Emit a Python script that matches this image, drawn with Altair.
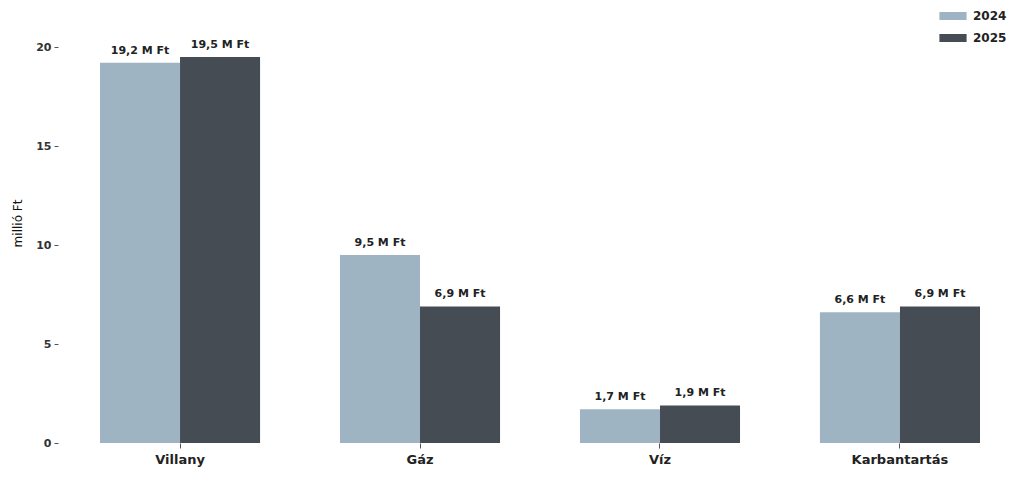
import altair as alt
import pandas as pd

categories = ["Villany", "Gáz", "Víz", "Karbantartás"]
years = ["2024", "2025"]
values_2024 = [19.2, 9.5, 1.7, 6.6]
values_2025 = [19.5, 6.9, 1.9, 6.9]
colors = ["#9fb4c2", "#464c54"]

rows = []
for cat, v1, v2 in zip(categories, values_2024, values_2025):
    for yr, v in zip(years, (v1, v2)):
        rows.append({"kat": cat, "ev": yr, "ertek": v,
                     "cimke": f"{v:.1f}".replace(".", ",") + " M Ft"})
df = pd.DataFrame(rows)

FONT = "DejaVu Sans"

x = alt.X("kat:N", sort=categories, title=None,
          scale=alt.Scale(paddingInner=0.333, paddingOuter=0.125),
          axis=alt.Axis(labelAngle=0, labelFont=FONT, labelFontWeight="bold",
                        labelFontSize=13, labelColor="#222", domain=False,
                        ticks=True, tickSize=5, tickColor="#555",
                        labelPadding=5))
xo = alt.XOffset("ev:N", sort=years)
y = alt.Y("ertek:Q", title="millió Ft",
          scale=alt.Scale(domain=[0, 20], nice=False),
          axis=alt.Axis(values=[0, 5, 10, 15, 20], grid=False, domain=False,
                        tickSize=4, tickColor="#555", offset=12,
                        labelFont=FONT, labelFontWeight="bold", labelFontSize=11,
                        labelColor="#333", labelPadding=3,
                        titleFont=FONT, titleFontSize=12, titleFontWeight="normal",
                        titleColor="#111", titlePadding=11, titleY=176))

color = alt.Color("ev:N", sort=years, title=None,
                  scale=alt.Scale(domain=years, range=colors),
                  legend=alt.Legend(orient="none", legendX=875, legendY=-39,
                                    symbolType="M-1.7,-0.5L1.7,-0.5L1.7,0.5L-1.7,0.5Z",
                                    symbolSize=256, symbolStrokeWidth=0,
                                    labelFont=FONT, labelFontWeight="bold",
                                    labelFontSize=12, labelColor="#222",
                                    rowPadding=8, labelOffset=12))

bars = alt.Chart(df).mark_bar().encode(x=x, xOffset=xo, y=y, color=color)
text = alt.Chart(df).mark_text(baseline="bottom", dy=-7, font=FONT,
                               fontWeight="bold", fontSize=11, color="#222").encode(
    x=x, xOffset=xo, y=y, text="cimke:N")

chart = (bars + text).properties(
    width=940, height=396,
    autosize=alt.AutoSizeParams(type="none"),
    padding={"left": 62, "top": 39, "right": 1, "bottom": 26},
    background="white",
).configure_view(stroke=None)

chart.save("out.html", embed_options={"renderer": "svg", "actions": False})
